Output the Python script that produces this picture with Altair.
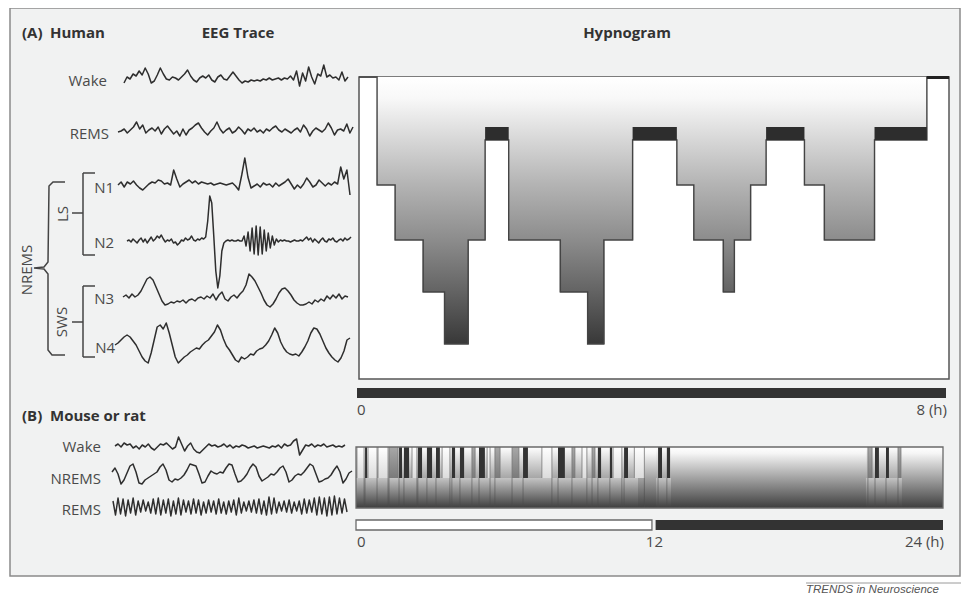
import altair as alt
import pandas as pd

# ---------------- data ----------------
# Human hypnogram: stage starts (hours) and stage names; night ends at 8 h
hyp_a_start = [0, 0.245, 0.49, 0.87, 1.16, 1.48, 1.71, 2.03, 2.73, 3.10, 3.32,
               3.71, 4.31, 4.54, 4.94, 5.09, 5.31, 5.52, 6.04, 6.31, 6.99, 7.70]
hyp_a_stage = ['W', 'N1', 'N2', 'N3', 'N4', 'N2', 'R', 'N2', 'N3', 'N4', 'N2',
               'R', 'N1', 'N2', 'N3', 'N2', 'N1', 'R', 'N1', 'N2', 'R', 'W']
hyp_a_end = 8

# Mouse hypnogram episodes (hours)
m_rem_start = [0.37, 1.76, 1.96, 2.53, 2.90, 3.27, 3.92, 4.25, 5.03, 6.83, 8.26,
               9.89, 10.38, 10.96, 12.35, 12.71, 21.22, 21.67]
m_rem_end = [0.45, 1.88, 2.17, 2.70, 3.11, 3.43, 4.05, 4.42, 5.27, 7.03, 8.54,
             10.02, 10.47, 11.12, 12.51, 12.84, 21.38, 21.79]
m_mid_start = [1.35, 4.74, 5.68, 6.38, 8.83, 9.65, 20.93, 22.16]
m_mid_end = [1.72, 4.87, 5.89, 6.66, 8.95, 9.77, 21.10, 22.28]
m_wake_start = [0.04, 0.49, 0.90, 2.29, 3.52, 5.36, 7.60, 9.24, 10.51, 11.38]
m_wake_end = [0.33, 0.86, 1.31, 2.49, 3.84, 5.48, 8.01, 9.44, 10.87, 11.79]
m_frag_start = [0.0, 12.27, 20.85]
m_frag_end = [11.53, 12.88, 22.32]
light_phase = [0, 12.1]
dark_phase = [12.25, 24]

# EEG traces (amplitude samples, evenly spaced in time, + = up)
eeg_h_wake = [-4, 2, 0, 5, 3, 8, 4, 11, 5, -4, -2, 4, 11, 5, 0, -1, 2, 1, -1, 2,
              5, 9, 3, -1, -3, 1, 3, 1, 4, -1, -3, 2, 4, 0, -1, 3, 7, 3, -1, -4,
              -2, -3, -1, -2, -1, -2, 0, -1, 1, -1, 0, 1, -1, 1, 0, 3, -1, 8, -7, 6,
              -2, 12, 2, -5, 5, 3, 14, 2, 4, 1, 2, -1, 7, -2, 2]
eeg_h_rems = [-1, 0, 2, -2, 1, 4, 9, 2, 6, -2, 1, 3, 0, 4, -3, 2, 5, 1, -3, 0,
              -5, 2, -4, 1, 3, 6, 8, 3, -1, -4, 0, 3, 9, 2, -2, 1, 3, -2, 0, 4,
              1, -3, 2, 0, 3, -1, 1, -2, 2, 0, 3, 5, 1, -1, 2, 0, -2, 1, 3, -1,
              6, 2, -5, 0, 3, 1, -1, 2, 8, 3, -4, 1, 2, 0, 7, -2, 4]
eeg_n1 = [0, 3, -2, 3, 1, 4, 0, -3, -5, -2, 1, 3, 2, 5, 4, 1, 2, 0, 15, 6,
          -2, 1, 3, 5, 2, 4, 1, 3, 2, 1, 2, 0, 1, 2, 1, 0, 1, 2, -1, -5,
          10, 27, 8, -3, -1, 1, -2, 2, 0, 1, -2, 2, -1, 1, 3, 6, 1, -4, 0, -3,
          1, 7, 3, -2, 0, 5, 2, -1, 2, 0, 3, 1, 18, 6, 15, -10]
eeg_n2 = [0, 1, -1, 2, 0, -2, 1, 3, -1, 2, -2, 1, 4, 0, 2, 5, 3, 6, 2, -1,
          1, 0, 2, -2, -1, -4, -2, 1, 0, 3, 1, 2, 5, 1, 0, 2, 1, 3, 2, 4,
          20, 45, 38, 5, -30, -47, -35, -10, -2, 0,
          1, 0, 1, 0, 0, 1, 0, 0,
          5, -5, 9, -10, 13, -13, 15, -14, 14, -13, 11, -10, 8, -7, 5, -4, 2, -1,
          1, 0, 1, 0, 0, -1, 0, 1, 0, 0, 1, 0, 2, 4, 1, 3, -1, 2, 0, -2,
          1, 3, 0, -1, 2, 1, 3, 0, -1, 1, 2, 0, 3, 1, 2, 4]
eeg_n3 = [0, 2, -1, 3, 0, 2, 6, 12, 18, 20, 17, 10, 3, -4, -8, -7, -5, -6, -4, -5,
          -3, -6, -3, -2, -4, -1, 0, -2, 1, -1, 3, -3, 2, 5, -2, -4, 0, 2, -1, 3,
          6, 12, 23, 20, 16, 10, 4, -3, -8, -10, -7, -2, 4, 8, 9, 6, 2, -3, -6, -8,
          -8, -7, -5, -7, -3, -5, -2, -4, 1, -2, 2, -1, 3, -2, 1, 0]
eeg_n4 = [0, 2, 5, 8, 10, 8, 4, 0, -6, -12, -16, -18, -8, 5, 18, 20, 16, 22, 12, 0,
          -12, -18, -15, -12, -10, -7, -5, -3, -4, 0, 3, 5, 9, 13, 20, 15, 6, -1, -5, -10,
          -15, -17, -12, -14, -12, -9, -10, -6, -4, -3, 0, 4, 10, 17, 12, 3, -3, -7, -9, -10,
          -9, -11, -7, -2, 4, 12, 17, 16, 11, 4, -3, -8, -12, -15, -17, -13, -6, 5, 7]
eeg_m_wake = [1, 3, 0, 4, 2, 3, -1, 1, -2, 2, 0, 3, -1, -3, 0, 3, 2, 4, 1, -2,
              0, 10, 3, -4, 1, 4, -2, -5, -6, -3, 0, 3, 1, 2, 0, 1, 3, 0, 2, -1,
              1, 0, 2, 1, -1, 0, 1, -1, 0, 1, 0, -1, 1, 0, 2, -1, 3, 1, 2, 6,
              8, -8, -3, 2, 1, 3, 0, 2, 1, 3, 0, 1, 2, 0, 1, 0, 2]
eeg_m_nrems = [4, 8, 2, -8, -4, 3, 10, 12, 4, -7, -8, -4, -2, 0, 2, 4, 9, 12, 6, -4,
               -6, -3, -4, -2, 1, 6, 12, 11, 10, 2, -7, -6, 0, 5, 3, 2, 4, 3, 8, 12,
               11, 2, -6, -5, -2, 2, 8, 12, 9, 0, -5, -3, -1, 2, 1, 4, 8, 10, 4, -6,
               -4, 0, 2, 1, 4, 8, 12, 10, 2, -6, -5, -3, -2, 1, 6, 10, 4, -7, -3, 3, 5]
eeg_m_rems = [6, -8, 9, -7, 8, -9, 7, -6, 9, -8, 6, -5, 7, -4, 5, -6, 8, -7, 9, -8,
              7, -6, 8, -9, 6, -7, 9, -8, 7, -5, 6, -7, 8, -6, 7, -8, 5, -6, 7, -5,
              6, -7, 8, -6, 5, -7, 6, -5, 7, -8, 9, -6, 5, -4, 6, -5, 7, -6, 8, -7,
              6, -8, 10, -7, 9, -6, 5, -4, 6, -5, 7, -6, 5, -4, 6, -7, 8, -6, 7, -5,
              9, -8, 10, -7, 9, -9, 10, -8, 11, -7, 9, -6, 8, -5]

# ---------------- layout (page pixel frame) ----------------
W, H = 953, 589
X0, Y0 = 8, 8
xs = alt.Scale(domain=[X0, X0 + W], nice=False, zero=False)
ys = alt.Scale(domain=[Y0, Y0 + H], nice=False, zero=False, reverse=True)

A_X0, A_X1 = 359, 949          # human hypnogram 0..8 h
A_TOP, A_BOT = 77, 379
stage_y = {'W': 77, 'R': 140, 'N1': 185, 'N2': 240, 'N3': 292, 'N4': 344}
A_DEEP = 344
B_X0, B_X1 = 356, 943          # mouse hypnogram 0..24 h
B_TOP, B_MID, B_BOT = 447, 478, 508


def xA(h):
    return A_X0 + h * (A_X1 - A_X0) / 8.0


def xB(h):
    return B_X0 + h * (B_X1 - B_X0) / 24.0


def X(f='x'):
    return alt.X(f'{f}:Q', scale=xs, axis=None)


def Y(f='y'):
    return alt.Y(f'{f}:Q', scale=ys, axis=None)


def rects(df, **mk):
    return alt.Chart(df).mark_rect(**mk).encode(
        x=X('x'), x2=alt.X2('x2'), y=Y('y'), y2=alt.Y2('y2'))


def rules(df, **mk):
    return alt.Chart(df).mark_rule(**mk).encode(
        x=X('x'), x2=alt.X2('x2'), y=Y('y'), y2=alt.Y2('y2'))


def texts(df, **mk):
    base = dict(font='Open Sans', baseline='middle')
    base.update(mk)
    return alt.Chart(df).mark_text(**base).encode(x=X('x'), y=Y('y'), text='t:N')


def grad(stops):
    return {"gradient": "linear", "x1": 0, "y1": 0, "x2": 0, "y2": 1,
            "stops": [{"offset": round(o, 4), "color": c} for o, c in stops]}


def _hex(c):
    c = c.lstrip('#')
    return [int(c[k:k + 2], 16) for k in (0, 2, 4)]


def _mix(c1, c2, t):
    a, b = _hex(c1), _hex(c2)
    return '#' + ''.join('%02x' % int(round(a[k] + (b[k] - a[k]) * t)) for k in range(3))


def truncated(stops, g):
    """Gradient stops of a global ramp, cut off at global fraction g."""
    out = []
    for k, (o, c) in enumerate(stops):
        if o < g:
            out.append((o / g, c))
        else:
            o0, c0 = stops[k - 1]
            out.append((1.0, _mix(c0, c, (g - o0) / (o - o0))))
            break
    return out


layers = []

# outer panel
layers.append(rects(pd.DataFrame([dict(x=10, x2=960, y=8, y2=576)]),
                    fill='#f1f2f2', stroke='#8a8a8a', strokeWidth=1.5))

# footer
layers.append(rules(pd.DataFrame([dict(x=806, x2=975, y=583, y2=583)]),
                    color='#9a9a9a', strokeWidth=1))
layers.append(texts(pd.DataFrame([dict(x=806, y=590, t='TRENDS in Neuroscience')]),
                    font='Liberation Sans', fontStyle='italic', fontSize=11.5,
                    color='#555555', align='left'))

# ---------- human hypnogram ----------
layers.append(rects(pd.DataFrame([dict(x=A_X0, x2=A_X1, y=A_TOP, y2=A_BOT)]),
                    fill='white', stroke='#555555', strokeWidth=1.5))

bounds_a = hyp_a_start + [hyp_a_end]
ramp = [(0, '#ffffff'), (0.08, '#f8f8f8'), (0.4, '#b4b4b4'),
        (0.62, '#8a8a8a'), (0.8, '#646464'), (1, '#383838')]
for st in ['R', 'N1', 'N2', 'N3', 'N4']:
    segs = [dict(x=xA(bounds_a[i]) - 0.6, x2=xA(bounds_a[i + 1]) + 0.6,
                 y=A_TOP, y2=stage_y[st])
            for i, s in enumerate(hyp_a_stage) if s == st]
    g = (stage_y[st] - A_TOP) / (A_DEEP - A_TOP)
    layers.append(rects(pd.DataFrame(segs), fill=grad(truncated(ramp, g))))

rows = []
for i, st in enumerate(hyp_a_stage):
    rows.append(dict(x=xA(bounds_a[i]), y=stage_y[st], i=i))
rows.append(dict(x=xA(hyp_a_end), y=stage_y[hyp_a_stage[-1]], i=len(rows)))
layers.append(alt.Chart(pd.DataFrame(rows)).mark_line(
    interpolate='step-after', color='#444444', strokeWidth=1.4).encode(
    x=X('x'), y=Y('y'), order='i:Q'))

rem_rows, wake_rows = [], []
for i, st in enumerate(hyp_a_stage):
    if st == 'R':
        rem_rows.append(dict(x=xA(bounds_a[i]), x2=xA(bounds_a[i + 1]), y=127, y2=140))
    if st == 'W' and i > 0:
        wake_rows.append(dict(x=xA(bounds_a[i]), x2=xA(bounds_a[i + 1]), y=76, y2=79))
layers.append(rects(pd.DataFrame(rem_rows), fill='#2d2d2d'))
layers.append(rects(pd.DataFrame(wake_rows), fill='#222222'))

# time bar human
layers.append(rects(pd.DataFrame([dict(x=xA(0) - 2, x2=xA(8) - 3, y=388, y2=398)]),
                    fill='#333333'))

# ---------- mouse hypnogram ----------
box_grad = grad([(0, '#ffffff'), (0.1, '#f6f6f6'), (1, '#3e3e3e')])
layers.append(rects(pd.DataFrame([dict(x=B_X0, x2=B_X1, y=B_TOP, y2=B_BOT)]),
                    fill=box_grad))
frag_up = pd.DataFrame([dict(x=xB(s), x2=xB(e), y=B_TOP, y2=B_MID)
                        for s, e in zip(m_frag_start, m_frag_end)])
frag_lo = pd.DataFrame([dict(x=xB(s), x2=xB(e), y=B_MID, y2=B_BOT)
                        for s, e in zip(m_frag_start, m_frag_end)])
layers.append(rects(frag_up, fill=grad([(0, '#ffffff'), (1, '#a6a6a6')])))
layers.append(rects(frag_lo, fill=grad([(0, '#c4c4c4'), (1, '#3e3e3e')])))

wk = pd.DataFrame([dict(x=xB(s), x2=xB(e), y=B_TOP, y2=B_MID)
                   for s, e in zip(m_wake_start, m_wake_end)])
md = pd.DataFrame([dict(x=xB(s), x2=xB(e), y=B_TOP, y2=B_MID)
                   for s, e in zip(m_mid_start, m_mid_end)])
rm = pd.DataFrame([dict(x=xB(s), x2=xB(e), y=B_TOP, y2=B_MID)
                   for s, e in zip(m_rem_start, m_rem_end)])
layers.append(rects(wk, fill=grad([(0, '#ffffff'), (1, '#dcdcdc')])))
layers.append(rects(md, fill=grad([(0, '#a8a8a8'), (1, '#7a7a7a')])))
layers.append(rects(rm, fill='#333333'))

edges = sorted(set([xB(v) for v in m_wake_start + m_wake_end + m_mid_start + m_mid_end]))
layers.append(rules(pd.DataFrame([dict(x=e, x2=e, y=B_TOP, y2=B_MID) for e in edges]),
                    color='#777777', strokeWidth=0.8))
low_edges = sorted(set([xB(v) for v in m_rem_start + m_mid_start + m_wake_end]))
layers.append(rules(pd.DataFrame([dict(x=e, x2=e, y=B_MID, y2=B_BOT) for e in low_edges]),
                    color='#4a4a4a', strokeWidth=0.9, opacity=0.6))
layers.append(rects(pd.DataFrame([dict(x=B_X0, x2=B_X1, y=B_TOP, y2=B_BOT)]),
                    fill='white', fillOpacity=0, stroke='#6a6a6a', strokeWidth=1.3))

# light/dark bars
layers.append(rects(pd.DataFrame([dict(x=xB(light_phase[0]), x2=xB(light_phase[1]),
                                       y=520, y2=530)]),
                    fill='white', stroke='#6a6a6a', strokeWidth=1.3))
layers.append(rects(pd.DataFrame([dict(x=xB(dark_phase[0]), x2=xB(dark_phase[1]),
                                       y=520, y2=530)]),
                    fill='#333333'))

# ---------- EEG traces ----------
traces = [
    ('h_wake', eeg_h_wake, 124, 348, 79),
    ('h_rems', eeg_h_rems, 118, 353, 131),
    ('n1', eeg_n1, 118, 350, 185),
    ('n2', eeg_n2, 127, 351, 241),
    ('n3', eeg_n3, 123, 348, 297),
    ('n4', eeg_n4, 115, 350, 345),
    ('m_wake', eeg_m_wake, 115, 345, 447),
    ('m_nrems', eeg_m_nrems, 112, 352, 476),
    ('m_rems', eeg_m_rems, 113, 347, 507),
]
trows = []
for name, vals, x0, x1, yc in traces:
    n = len(vals)
    for i, v in enumerate(vals):
        trows.append(dict(trace=name, i=i, x=x0 + i * (x1 - x0) / (n - 1), y=yc - v))
layers.append(alt.Chart(pd.DataFrame(trows)).mark_line(
    color='#2e2e2e', strokeWidth=1.5, strokeJoin='round').encode(
    x=X('x'), y=Y('y'), detail='trace:N', order='i:Q'))

# ---------- brackets ----------
br = pd.DataFrame([
    dict(x=83, x2=83, y=173, y2=255), dict(x=83, x2=95, y=173, y2=173),
    dict(x=83, x2=95, y=255, y2=255), dict(x=72, x2=83, y=213, y2=213),
    dict(x=83, x2=83, y=286, y2=357), dict(x=83, x2=95, y=286, y2=286),
    dict(x=83, x2=95, y=357, y2=357), dict(x=72, x2=83, y=322, y2=322),
])
layers.append(rules(br, color='#444444', strokeWidth=1.5))
brace = pd.DataFrame([
    dict(i=0, x=65, y=182), dict(i=1, x=53, y=182), dict(i=2, x=49, y=186),
    dict(i=3, x=48, y=262), dict(i=4, x=44, y=267), dict(i=5, x=34, y=268),
    dict(i=6, x=44, y=269), dict(i=7, x=48, y=274), dict(i=8, x=48, y=350),
    dict(i=9, x=52, y=355), dict(i=10, x=65, y=355),
])
layers.append(alt.Chart(brace).mark_line(color='#444444', strokeWidth=1.5).encode(
    x=X('x'), y=Y('y'), order='i:Q'))

# ---------- texts ----------
bold = pd.DataFrame([
    dict(x=22, y=33, t='(A)'), dict(x=50, y=33, t='Human'),
    dict(x=22, y=416, t='(B)'), dict(x=50, y=416, t='Mouse or rat'),
])
layers.append(texts(bold, fontSize=15, fontWeight='bold', color='#333333', align='left'))
boldc = pd.DataFrame([dict(x=238, y=33, t='EEG Trace'), dict(x=627, y=33, t='Hypnogram')])
layers.append(texts(boldc, fontSize=15, fontWeight='bold', color='#333333', align='center'))

labels = pd.DataFrame([
    dict(x=107, y=81, t='Wake'), dict(x=109, y=134, t='REMS'),
    dict(x=114, y=188, t='N1'), dict(x=114, y=243, t='N2'),
    dict(x=114, y=299, t='N3'), dict(x=115, y=348, t='N4'),
    dict(x=101, y=447, t='Wake'), dict(x=101, y=479, t='NREMS'),
    dict(x=101, y=510, t='REMS'),
])
layers.append(texts(labels, fontSize=15, color='#4a4a4a', align='right'))
rot = pd.DataFrame([dict(x=27, y=270, t='NREMS'), dict(x=63, y=214, t='LS'),
                    dict(x=62, y=322, t='SWS')])
layers.append(texts(rot, fontSize=15, color='#4a4a4a', align='center', angle=270))

tick_l = pd.DataFrame([dict(x=357, y=410, t='0'), dict(x=357, y=542, t='0')])
layers.append(texts(tick_l, fontSize=15, color='#4a4a4a', align='left'))
tick_c = pd.DataFrame([dict(x=xB(12.2), y=542, t='12')])
layers.append(texts(tick_c, fontSize=15, color='#4a4a4a', align='center'))
tick_r = pd.DataFrame([dict(x=947, y=410, t='8 (h)'), dict(x=944, y=542, t='24 (h)')])
layers.append(texts(tick_r, fontSize=15, color='#4a4a4a', align='right'))

chart = alt.layer(*layers).properties(
    width=W, height=H, padding=0, autosize=alt.AutoSizeParams(type='none'),
    background='white'
).configure_view(stroke=None)

chart.save("out.html", embed_options={"renderer": "svg", "actions": False})
